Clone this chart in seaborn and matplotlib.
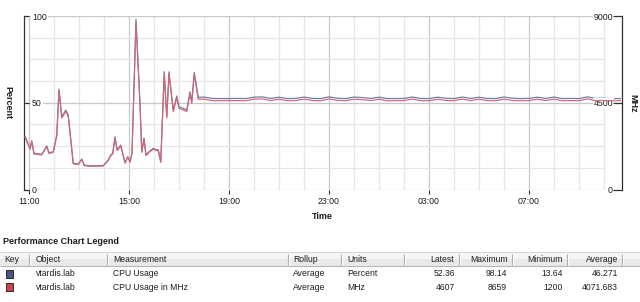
import numpy as np
import pandas as pd
import matplotlib
matplotlib.use("Agg")
import matplotlib.pyplot as plt
from matplotlib.patches import Rectangle
import seaborn as sns

# ---------------- data ----------------
# hours after 11:00
early_hours = [-0.16, 0.04, 0.11, 0.20, 0.51, 0.71, 0.80, 0.97, 1.11, 1.20,
               1.31, 1.47, 1.57, 1.77, 1.97, 2.11, 2.21, 2.44, 2.64, 2.97,
               3.17, 3.27, 3.35, 3.44, 3.53, 3.67, 3.84, 3.95, 4.04, 4.12,
               4.28, 4.44, 4.51, 4.60, 4.68, 4.80, 4.97, 5.11, 5.17, 5.27,
               5.41, 5.51, 5.60, 5.77, 5.91, 6.00, 6.17, 6.31, 6.44, 6.51,
               6.61, 6.77]
early_pct = [30.8, 23.7, 28.1, 20.9, 20.3, 25.1, 21.2, 21.8, 31.4, 57.9,
             42.0, 45.8, 42.9, 15.1, 14.7, 17.6, 14.0, 13.7, 13.64, 13.8,
             17.0, 19.9, 20.9, 30.4, 22.8, 25.6, 15.5, 18.9, 16.0, 20.9,
             98.14, 49.7, 21.8, 29.7, 19.9, 21.8, 23.7, 22.8, 23.0, 16.0,
             67.9, 42.0, 67.9, 45.8, 53.9, 47.7, 46.8, 45.8, 56.4, 50.6,
             67.5, 53.1]
early_mhz = [2717, 2091, 2479, 1844, 1791, 2215, 1870, 1923, 2770, 5108,
             3706, 4041, 3785, 1332, 1297, 1553, 1235, 1209, 1200, 1218,
             1500, 1756, 1844, 2682, 2012, 2259, 1368, 1668, 1412, 1844,
             8659, 4385, 1923, 2620, 1756, 1923, 2091, 2012, 2029, 1412,
             5991, 3706, 5991, 4041, 4756, 4209, 4129, 4041, 4976, 4464,
             5956, 4685]

# steady part: one sample every 20 minutes from 18:00
flat_start_hour = 7.0
flat_step_hours = 1.0 / 3.0
flat_pct = [53.3, 52.5, 52.4, 52.4, 52.5, 52.4, 53.2, 53.4, 52.5, 53.2,
            52.4, 52.5, 53.3, 52.5, 52.4, 53.4, 52.6, 52.4, 53.3, 53.0,
            52.5, 53.2, 52.4, 52.4, 52.5, 53.3, 52.5, 52.4, 53.2, 52.6,
            52.4, 53.3, 52.5, 53.2, 52.5, 52.4, 53.3, 52.6, 52.4, 52.5,
            53.2, 52.5, 53.3, 52.4, 52.5, 52.4, 53.4, 52.5, 52.6, 52.4,
            52.36]
flat_mhz = [4690, 4615, 4605, 4608, 4612, 4604, 4685, 4702, 4614, 4683,
            4606, 4612, 4692, 4615, 4605, 4700, 4625, 4606, 4688, 4662,
            4613, 4684, 4604, 4607, 4615, 4690, 4614, 4605, 4682, 4621,
            4606, 4690, 4614, 4683, 4615, 4604, 4688, 4620, 4606, 4612,
            4683, 4614, 4692, 4606, 4612, 4605, 4700, 4612, 4618, 4600,
            4607]

time_ticks = [0, 4, 8, 12, 16, 20]
time_labels = ["11:00", "15:00", "19:00", "23:00", "03:00", "07:00"]
pct_ticks = [0, 50, 100]
mhz_ticks = [0, 4500, 9000]

legend_columns = ["Key", "Object", "Measurement", "Rollup", "Units",
                  "Latest", "Maximum", "Minimum", "Average"]
legend_objects = ["vtardis.lab", "vtardis.lab"]
legend_measurements = ["CPU Usage", "CPU Usage in MHz"]
legend_rollups = ["Average", "Average"]
legend_units = ["Percent", "MHz"]
legend_latest = ["52.36", "4607"]
legend_maximum = ["98.14", "8659"]
legend_minimum = ["13.64", "1200"]
legend_average = ["46.271", "4071.683"]

# ---------------- build frame ----------------
flat_hours = flat_start_hour + np.arange(len(flat_pct)) * flat_step_hours
df = pd.DataFrame({
    "hour": list(early_hours) + list(flat_hours),
    "pct": early_pct + flat_pct,
    "mhz": early_mhz + flat_mhz,
})

sns.set_theme(style="white")
plt.rcParams["font.family"] = ["Liberation Sans", "DejaVu Sans"]

BLUE = "#6f7899"
RED = "#d06676"
KEY_BLUE = "#4b5680"
KEY_RED = "#d3404f"
GRID_MINOR = "#e6e6e6"
GRID_MAJOR = "#c8c8c8"
DARK = "#303030"
TXT = "#1e1e1e"
FS = 6.3

W, H = 640, 302
fig = plt.figure(figsize=(W / 100, H / 100), dpi=100)
fig.patch.set_facecolor("white")

# overlay for the legend table (figure pixel coordinates)
tab = fig.add_axes([0, 0, 1, 1])
tab.set_xlim(0, W)
tab.set_ylim(H, 0)
tab.axis("off")

# main chart axes: x from px 24 to 622, y from px 16 to 189.5
L, R, T, B = 24, 622, 16, 189.5
ax = fig.add_axes([L / W, (H - B) / H, (R - L) / W, (B - T) / H])
ax.set_facecolor("none")
px_per_hour = 25.0
x0 = (L - 29) / px_per_hour
x1 = (R - 29) / px_per_hour
ax.set_xlim(x0, x1)
ax.set_ylim(0, 100)

# grid
for h in range(0, 24):
    ax.vlines(h, 0, 100, color=GRID_MAJOR if h % 4 == 0 else GRID_MINOR,
              lw=0.9, zorder=0.5)
for v in np.arange(0, 100.1, 12.5):
    ax.hlines(v, 0, 23, color=GRID_MAJOR if v in (0, 50, 100) else GRID_MINOR,
              lw=0.9, zorder=0.5)

ax2 = ax.twinx()
ax2.set_ylim(0, 9000)
ax2.set_xlim(x0, x1)

sns.lineplot(data=df, x="hour", y="pct", ax=ax, color=BLUE, lw=0.85,
             zorder=3, legend=False)
sns.lineplot(data=df, x="hour", y="mhz", ax=ax2, color=RED, lw=0.85,
             zorder=3, legend=False)

# spines as brackets
for sp in ax.spines.values():
    sp.set_visible(False)
for sp in ax2.spines.values():
    sp.set_visible(False)
ax.spines["left"].set_visible(True)
ax.spines["left"].set_color(DARK)
ax.spines["left"].set_linewidth(0.9)
ax2.spines["right"].set_visible(True)
ax2.spines["right"].set_color(DARK)
ax2.spines["right"].set_linewidth(0.9)
ax.hlines(pct_ticks, x0, 0.0, color=DARK, lw=0.9, zorder=4, clip_on=False)
ax2.hlines(mhz_ticks, (613 - 29) / px_per_hour, x1, color=DARK, lw=0.9,
           zorder=4, clip_on=False)

# y ticks (labels inside the plot)
ax.set_yticks(pct_ticks)
ax.set_yticklabels([str(v) for v in pct_ticks])
ax.tick_params(axis="y", length=0, pad=-5.8, labelsize=FS, labelcolor=TXT)
for t in ax.get_yticklabels():
    t.set_horizontalalignment("left")
    t.set_bbox(dict(facecolor="white", edgecolor="none", pad=0.6))
ax2.set_yticks(mhz_ticks)
ax2.set_yticklabels([str(v) for v in mhz_ticks])
ax2.tick_params(axis="y", length=0, pad=-6.5, labelsize=FS, labelcolor=TXT)
for t in ax2.get_yticklabels():
    t.set_horizontalalignment("right")
    t.set_bbox(dict(facecolor="white", edgecolor="none", pad=0.6))

# x ticks
ax.set_xticks(time_ticks)
ax.set_xticklabels(time_labels)
ax.tick_params(axis="x", bottom=True, length=3, width=0.8, color=DARK,
               pad=2.2, labelsize=FS, labelcolor=TXT)

# axis labels
ax.set_xlabel("Time", fontsize=6.5, fontweight="bold", color=TXT)
ax.xaxis.set_label_coords((322 - L) / (R - L), (B - 212) / (B - T))
ax.set_ylabel("Percent", fontsize=6.5, fontweight="bold", color=TXT,
              rotation=270, ha="center", va="center")
ax.yaxis.set_label_coords((8 - L) / (R - L), 0.5)
ax2.set_ylabel("MHz", fontsize=6.5, fontweight="bold", color=TXT,
               rotation=270, ha="center", va="center")
ax2.yaxis.set_label_coords((633 - L) / (R - L), 0.5)

# ---------------- legend table ----------------
tab.text(3, 241, "Performance Chart Legend", fontsize=6.5, fontweight="bold",
         color=TXT, va="center", ha="left")
hy0, hy1 = 252, 266
tab.add_patch(Rectangle((0, hy0), W, (hy1 - hy0) / 2, facecolor="#f5f5f5",
                        edgecolor="none"))
tab.add_patch(Rectangle((0, hy0 + (hy1 - hy0) / 2), W, (hy1 - hy0) / 2,
                        facecolor="#e9e9e9", edgecolor="none"))
tab.hlines(hy0, 0, W, color="#d8d8d8", lw=0.8)
tab.hlines(hy1, 0, W, color="#b8b8b8", lw=0.8)
for sx in [29, 107, 288, 341, 404, 459, 512, 567, 622]:
    tab.vlines(sx, hy0 + 1.5, hy1 - 1.5, color="#a9a9a9", lw=0.8)
    tab.vlines(sx + 1, hy0 + 1.5, hy1 - 1.5, color="white", lw=0.8)

left_cols = {"Key": 4, "Object": 36, "Measurement": 113, "Rollup": 293,
             "Units": 347}
right_cols = {"Latest": 454, "Maximum": 508, "Minimum": 563, "Average": 618}
hy = (hy0 + hy1) / 2
for c in legend_columns:
    if c in left_cols:
        tab.text(left_cols[c], hy, c, fontsize=6.2, color=TXT, va="center",
                 ha="left")
    else:
        tab.text(right_cols[c], hy, c, fontsize=6.2, color=TXT, va="center",
                 ha="right")

row_y = [274.0, 287.0]
key_cols = [KEY_BLUE, KEY_RED]
for i, ry in enumerate(row_y):
    tab.add_patch(Rectangle((5.5, ry - 3.7), 7.5, 7.5, facecolor=key_cols[i],
                            edgecolor="#2a2a2a", lw=0.7))
    tab.text(36, ry, legend_objects[i], fontsize=6.2, color=TXT, va="center")
    tab.text(113, ry, legend_measurements[i], fontsize=6.2, color=TXT,
             va="center")
    tab.text(293, ry, legend_rollups[i], fontsize=6.2, color=TXT, va="center")
    tab.text(347, ry, legend_units[i], fontsize=6.2, color=TXT, va="center")
    tab.text(455, ry, legend_latest[i], fontsize=6.2, color=TXT, va="center",
             ha="right")
    tab.text(507, ry, legend_maximum[i], fontsize=6.2, color=TXT, va="center",
             ha="right")
    tab.text(563, ry, legend_minimum[i], fontsize=6.2, color=TXT, va="center",
             ha="right")
    tab.text(618, ry, legend_average[i], fontsize=6.2, color=TXT, va="center",
             ha="right")

fig.savefig("out.png", dpi=100, facecolor="white")
